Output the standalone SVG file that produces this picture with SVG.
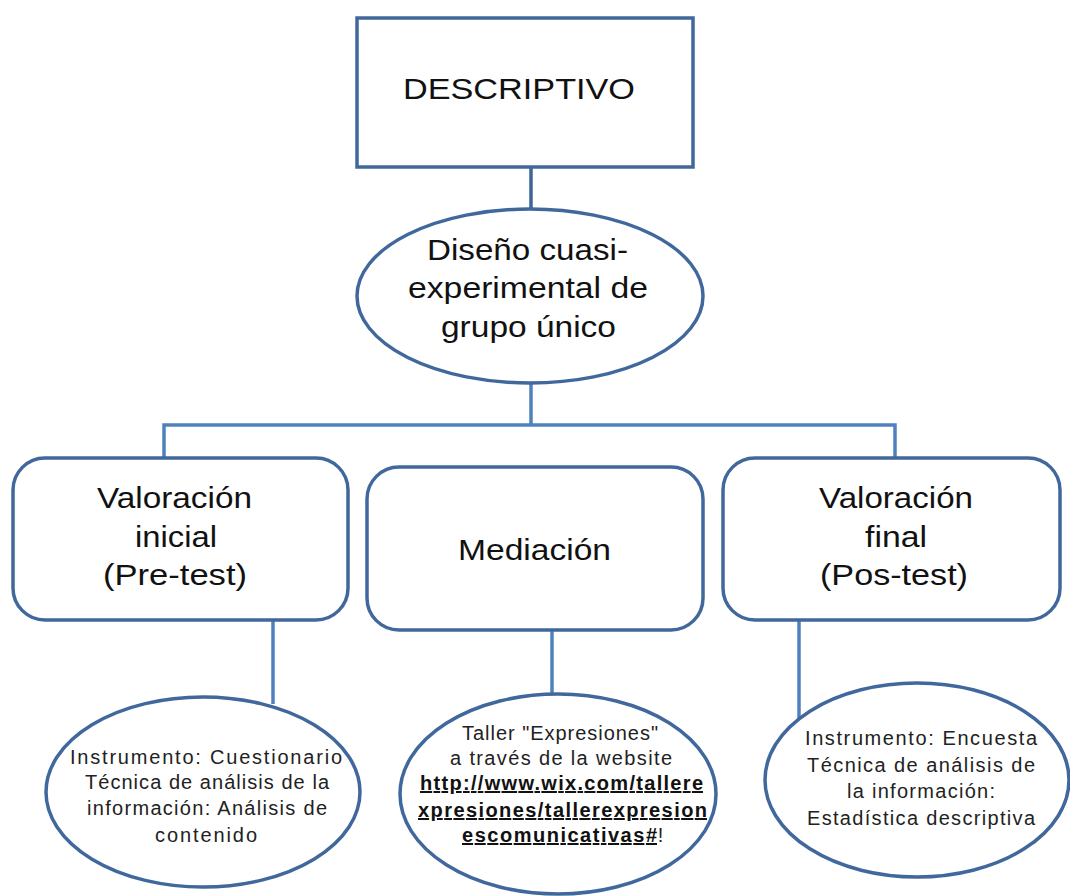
<svg xmlns="http://www.w3.org/2000/svg" width="1070" height="896" viewBox="0 0 1070 896">
<style>
.box{fill:#fff;stroke:#41689c;stroke-width:3.5}
.con{fill:none;stroke:#4f81bd;stroke-width:3.5}
.con2{fill:none;stroke:#3f6596;stroke-width:3.5}
.big{font-family:"Liberation Sans",Arial,sans-serif;font-size:30px;fill:#111;text-anchor:middle}
.sm{font-family:"Liberation Sans",Arial,sans-serif;font-size:20px;fill:#222;text-anchor:middle}
.url{font-weight:bold;text-decoration:underline;fill:#111}
</style>
<rect width="1070" height="896" fill="#fff"/>
<g id="connectors">
<line class="con2" x1="531" y1="167" x2="531" y2="210"/>
<polyline class="con" points="531,383 531,425"/>
<polyline class="con" points="164,459 164,425 895,425 895,459"/>
<line class="con" x1="273" y1="620" x2="273" y2="704"/>
<line class="con" x1="552" y1="630" x2="552" y2="694"/>
<line class="con" x1="799" y1="620" x2="799" y2="724"/>
</g>
<g id="descriptivo">
<rect class="box" x="357" y="18" width="336" height="149"/>
<text class="big" x="519" y="99" textLength="232" lengthAdjust="spacingAndGlyphs">DESCRIPTIVO</text>
</g>
<g id="diseno">
<ellipse class="box" cx="530" cy="296" rx="173" ry="87"/>
<text class="big" x="527.5" y="260" textLength="201" lengthAdjust="spacingAndGlyphs">Diseño cuasi-</text>
<text class="big" x="528" y="298" textLength="240" lengthAdjust="spacingAndGlyphs">experimental de</text>
<text class="big" x="528.5" y="337" textLength="175" lengthAdjust="spacingAndGlyphs">grupo único</text>
</g>
<g id="pretest">
<rect class="box" x="13" y="458" width="335" height="162" rx="32"/>
<text class="big" x="174.5" y="508" textLength="155" lengthAdjust="spacingAndGlyphs">Valoración</text>
<text class="big" x="176" y="547" textLength="82" lengthAdjust="spacingAndGlyphs">inicial</text>
<text class="big" x="175" y="585" textLength="144" lengthAdjust="spacingAndGlyphs">(Pre-test)</text>
</g>
<g id="mediacion">
<rect class="box" x="367" y="467" width="336" height="163" rx="32"/>
<text class="big" x="534.5" y="560" textLength="153" lengthAdjust="spacingAndGlyphs">Mediación</text>
</g>
<g id="postest">
<rect class="box" x="723" y="458" width="337" height="162" rx="32"/>
<text class="big" x="896" y="508" textLength="154" lengthAdjust="spacingAndGlyphs">Valoración</text>
<text class="big" x="896" y="547" textLength="62" lengthAdjust="spacingAndGlyphs">final</text>
<text class="big" x="894" y="585" textLength="148" lengthAdjust="spacingAndGlyphs">(Pos-test)</text>
</g>
<g id="instrumento-inicial">
<ellipse class="box" cx="203" cy="792" rx="157" ry="95"/>
<text class="sm" x="206" y="764" textLength="272">Instrumento:  Cuestionario</text>
<text class="sm" x="207" y="789" textLength="244">Técnica de análisis de la</text>
<text class="sm" x="207" y="815" textLength="240">información: Análisis de</text>
<text class="sm" x="206" y="842" textLength="102">contenido</text>
</g>
<g id="taller">
<ellipse class="box" cx="558" cy="794" rx="158" ry="100"/>
<text class="sm" x="560" y="740" textLength="196">Taller "Expresiones"</text>
<text class="sm" x="561" y="765" textLength="222">a través de la website</text>
<text class="sm url" x="561.5" y="790" textLength="283">http://www.wix.com/tallere</text>
<text class="sm url" x="562.5" y="817" textLength="289">xpresiones/tallerexpresion</text>
<text class="sm url" x="559.5" y="842" textLength="195">escomunicativas#</text>
<text class="sm" x="660.5" y="842">!</text>
</g>
<g id="instrumento-final">
<ellipse class="box" cx="917" cy="780" rx="152" ry="97"/>
<text class="sm" x="921" y="745" textLength="232">Instrumento: Encuesta</text>
<text class="sm" x="921" y="772" textLength="228">Técnica de análisis de</text>
<text class="sm" x="921" y="798" textLength="148">la información:</text>
<text class="sm" x="921" y="825" textLength="228">Estadística descriptiva</text>
</g>
</svg>
